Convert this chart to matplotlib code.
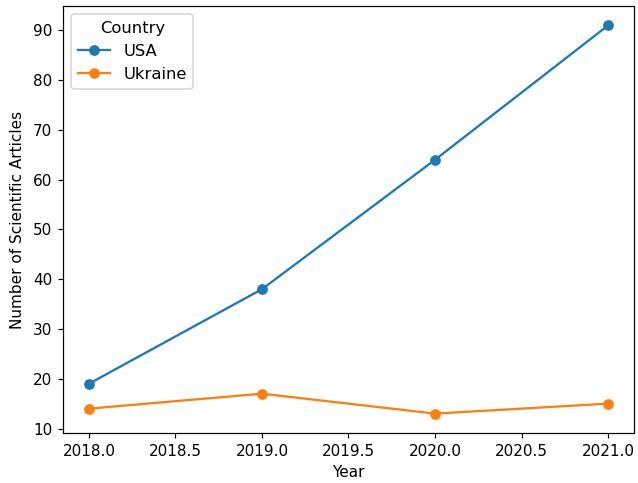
import matplotlib
matplotlib.use("Agg")
import matplotlib.pyplot as plt

years = [2018, 2019, 2020, 2021]
usa_articles = [19, 38, 64, 91]
ukraine_articles = [14, 17, 13, 15]

DPI = 110
fig = plt.figure(figsize=(638 / DPI, 483 / DPI), dpi=DPI)
ax = fig.add_axes([0.0987, 0.1035, 0.895, 0.884])

ax.plot(years, usa_articles, marker="o", label="USA")
ax.plot(years, ukraine_articles, marker="o", label="Ukraine")

ax.set_xlabel("Year")
ax.set_ylabel("Number of Scientific Articles", labelpad=5)
ax.legend(title="Country", loc="upper left", fontsize=10.7, title_fontsize=10.7)

fig.savefig("out.png", dpi=DPI)
